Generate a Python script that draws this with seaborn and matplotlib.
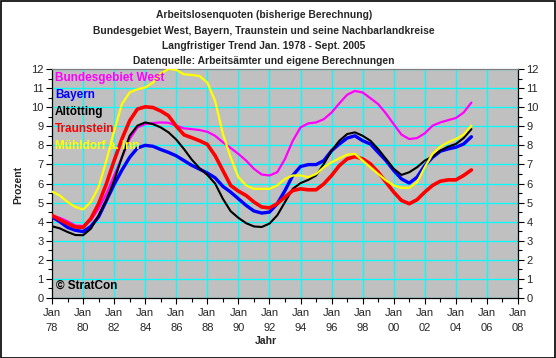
import matplotlib
matplotlib.use("Agg")
import matplotlib.pyplot as plt
import seaborn as sns
import pandas as pd
import numpy as np
from matplotlib.patches import Rectangle
from matplotlib.ticker import MultipleLocator

# ---------------- data ----------------
years = [1978.0, 1978.5, 1979.0, 1979.5, 1980.0, 1980.5, 1981.0, 1981.5, 1982.0, 1982.5,
         1983.0, 1983.5, 1984.0, 1984.5, 1985.0, 1985.5, 1986.0, 1986.5, 1987.0, 1987.5,
         1988.0, 1988.5, 1989.0, 1989.5, 1990.0, 1990.5, 1991.0, 1991.5, 1992.0, 1992.5,
         1993.0, 1993.5, 1994.0, 1994.5, 1995.0, 1995.5, 1996.0, 1996.5, 1997.0, 1997.5,
         1998.0, 1998.5, 1999.0, 1999.5, 2000.0, 2000.5, 2001.0, 2001.5, 2002.0, 2002.5,
         2003.0, 2003.5, 2004.0, 2004.5, 2005.0]

bundesgebiet_west = [4.33, 4.20, 4.02, 3.80, 3.77, 4.07, 4.68, 5.46, 6.42, 7.37,
                     8.33, 8.94, 9.11, 9.17, 9.20, 9.18, 9.03, 8.89, 8.85, 8.80,
                     8.71, 8.50, 8.16, 7.86, 7.55, 7.20, 6.77, 6.47, 6.42, 6.59,
                     7.29, 8.24, 8.94, 9.15, 9.20, 9.37, 9.72, 10.20, 10.65, 10.85,
                     10.77, 10.47, 10.16, 9.67, 9.11, 8.56, 8.33, 8.38, 8.63, 9.03,
                     9.20, 9.32, 9.43, 9.72, 10.24]

bayern = [4.25, 4.00, 3.70, 3.55, 3.48, 3.75, 4.25, 5.10, 5.95, 6.70,
          7.37, 7.86, 8.00, 7.95, 7.78, 7.63, 7.45, 7.20, 6.95, 6.75,
          6.55, 6.30, 5.85, 5.55, 5.20, 4.85, 4.56, 4.45, 4.50, 4.94,
          5.63, 6.42, 6.89, 6.99, 6.99, 7.20, 7.72, 8.07, 8.38, 8.50,
          8.24, 8.07, 7.63, 7.20, 6.68, 6.24, 6.02, 6.33, 6.94, 7.37,
          7.69, 7.81, 7.90, 8.07, 8.45]

altoetting = [3.76, 3.65, 3.46, 3.30, 3.29, 3.63, 4.33, 5.11, 6.16, 7.37,
              8.50, 9.03, 9.20, 9.11, 8.94, 8.68, 8.30, 7.80, 7.25, 6.80,
              6.45, 6.00, 5.20, 4.55, 4.20, 3.92, 3.75, 3.72, 3.90, 4.33,
              5.03, 5.72, 6.02, 6.19, 6.42, 7.03, 7.72, 8.24, 8.59, 8.68,
              8.50, 8.24, 7.80, 7.29, 6.77, 6.45, 6.59, 6.85, 7.20, 7.41,
              7.72, 7.93, 8.07, 8.38, 8.85]

traunstein = [4.33, 4.10, 3.90, 3.72, 3.70, 4.16, 4.94, 5.98, 7.20, 8.33,
              9.29, 9.90, 10.02, 9.98, 9.80, 9.55, 9.00, 8.55, 8.40, 8.24,
              8.05, 7.46, 6.68, 5.90, 5.60, 5.37, 5.03, 4.77, 4.72, 4.94,
              5.29, 5.63, 5.72, 5.67, 5.67, 5.98, 6.42, 6.94, 7.29, 7.41,
              7.29, 7.03, 6.59, 6.07, 5.55, 5.11, 4.94, 5.15, 5.55, 5.90,
              6.12, 6.19, 6.19, 6.42, 6.71]

muehldorf = [5.58, 5.37, 5.03, 4.77, 4.64, 5.03, 5.81, 7.20, 8.75, 10.16,
             10.77, 10.94, 11.03, 11.29, 11.76, 12.00, 11.95, 11.72, 11.69, 11.63,
             11.29, 10.33, 8.60, 7.37, 6.33, 5.90, 5.72, 5.72, 5.72, 5.90,
             6.24, 6.42, 6.42, 6.33, 6.50, 6.85, 7.11, 7.32, 7.51, 7.55,
             7.20, 6.85, 6.50, 6.16, 5.90, 5.77, 5.77, 6.07, 6.85, 7.55,
             7.93, 8.16, 8.33, 8.56, 9.03]

series_names = ["Bundesgebiet West", "Bayern", "Altötting", "Traunstein", "Mühldorf a. Inn"]
series_values = [bundesgebiet_west, bayern, altoetting, traunstein, muehldorf]
series_colors = ["#FF00FF", "#0000FF", "#000000", "#FF0000", "#FFFF00"]
series_widths = [1.6, 2.4, 1.5, 2.6, 1.6]

xtick_years = list(range(1978, 2009, 2))
xtick_labels = [f"Jan\n{y % 100:02d}" for y in xtick_years]

title_lines = ["Arbeitslosenquoten (bisherige Berechnung)",
               "Bundesgebiet West, Bayern, Traunstein und seine Nachbarlandkreise",
               "Langfristiger Trend Jan. 1978 - Sept. 2005",
               "Datenquelle: Arbeitsämter und eigene Berechnungen"]

# ---------------- style ----------------
sns.set_style("white")
plt.rcParams['font.family'] = ['Liberation Sans', 'DejaVu Sans']

W, H = 556, 358
fig = plt.figure(figsize=(W / 100, H / 100), dpi=100)
fig.patch.set_facecolor("white")

ax = fig.add_axes([52 / W, 1 - 298 / H, (518 - 52) / W, (298 - 69) / H])
ax.set_facecolor("#C0C0C0")

df = pd.DataFrame({
    "Jahr": np.tile(years, len(series_names)),
    "Quote": np.concatenate([np.array(v) for v in series_values]),
    "Region": np.repeat(series_names, len(years)),
})

for name, col, lw in zip(series_names, series_colors, series_widths):
    sns.lineplot(data=df[df["Region"] == name], x="Jahr", y="Quote",
                 color=col, linewidth=lw, ax=ax, label=name, zorder=3)

# axes
ax.set_xlim(1978, 2008)
ax.set_ylim(0, 12)
ax.set_xticks(xtick_years)
ax.set_xticklabels(xtick_labels, fontsize=7.5, linespacing=1.7)
ax.xaxis.set_minor_locator(MultipleLocator(1))
ax.set_yticks(range(0, 13))
ax.yaxis.set_minor_locator(MultipleLocator(0.5))
ax.tick_params(axis="both", which="major", direction="out", length=4, width=0.8,
               color="black", labelsize=8, pad=2)
ax.tick_params(axis="both", which="minor", direction="out", length=3, width=0.8, color="black")
ax.tick_params(axis="y", which="both", left=True, right=True, labelleft=True, labelright=True)
ax.tick_params(axis="x", which="both", bottom=True)
ax.tick_params(axis="x", which="major", pad=3)

ax.grid(True, which="major", color="#00FFFF", linewidth=0.9, zorder=1)
ax.set_axisbelow(True)

for s in ["left", "right", "bottom"]:
    ax.spines[s].set_color("black")
    ax.spines[s].set_linewidth(0.9)
ax.spines["top"].set_color("#808080")
ax.spines["top"].set_linewidth(0.9)

ax.set_xlabel("Jahr", fontsize=7.5, fontweight="bold")
ax.xaxis.set_label_coords((266 - 52) / 466, (298 - 336) / 229)
ax.xaxis.label.set_va("top")
ax.set_ylabel("Prozent", fontsize=7.5, fontweight="bold")
ax.yaxis.set_label_coords((18 - 52) / 466, (298 - 185) / 229)
ax.yaxis.label.set_va("center")
ax.yaxis.label.set_ha("center")

leg = ax.legend(loc="upper left", frameon=False, handlelength=0, handletextpad=0,
                labelcolor="linecolor", prop={"weight": "bold", "size": 8.5},
                labelspacing=0.42, borderaxespad=0.15, borderpad=0.1)
for h in leg.legend_handles:
    h.set_visible(False)

ax.text(0.008, 0.055, "© StratCon", transform=ax.transAxes, fontsize=8.5,
        fontweight="bold", color="black", ha="left", va="center")

for i, (line, ypx) in enumerate(zip(title_lines, [15, 31, 46, 61])):
    fig.text(264 / W, 1 - ypx / H, line, ha="center", va="center", fontsize=7.4,
             fontweight="bold")

fig.patches.append(Rectangle((0.5 / W, 0.5 / H), 1 - 1.5 / W, 1 - 1.5 / H,
                             transform=fig.transFigure, fill=False,
                             edgecolor="black", linewidth=1.2))

fig.savefig("out.png", dpi=100, facecolor="white")
